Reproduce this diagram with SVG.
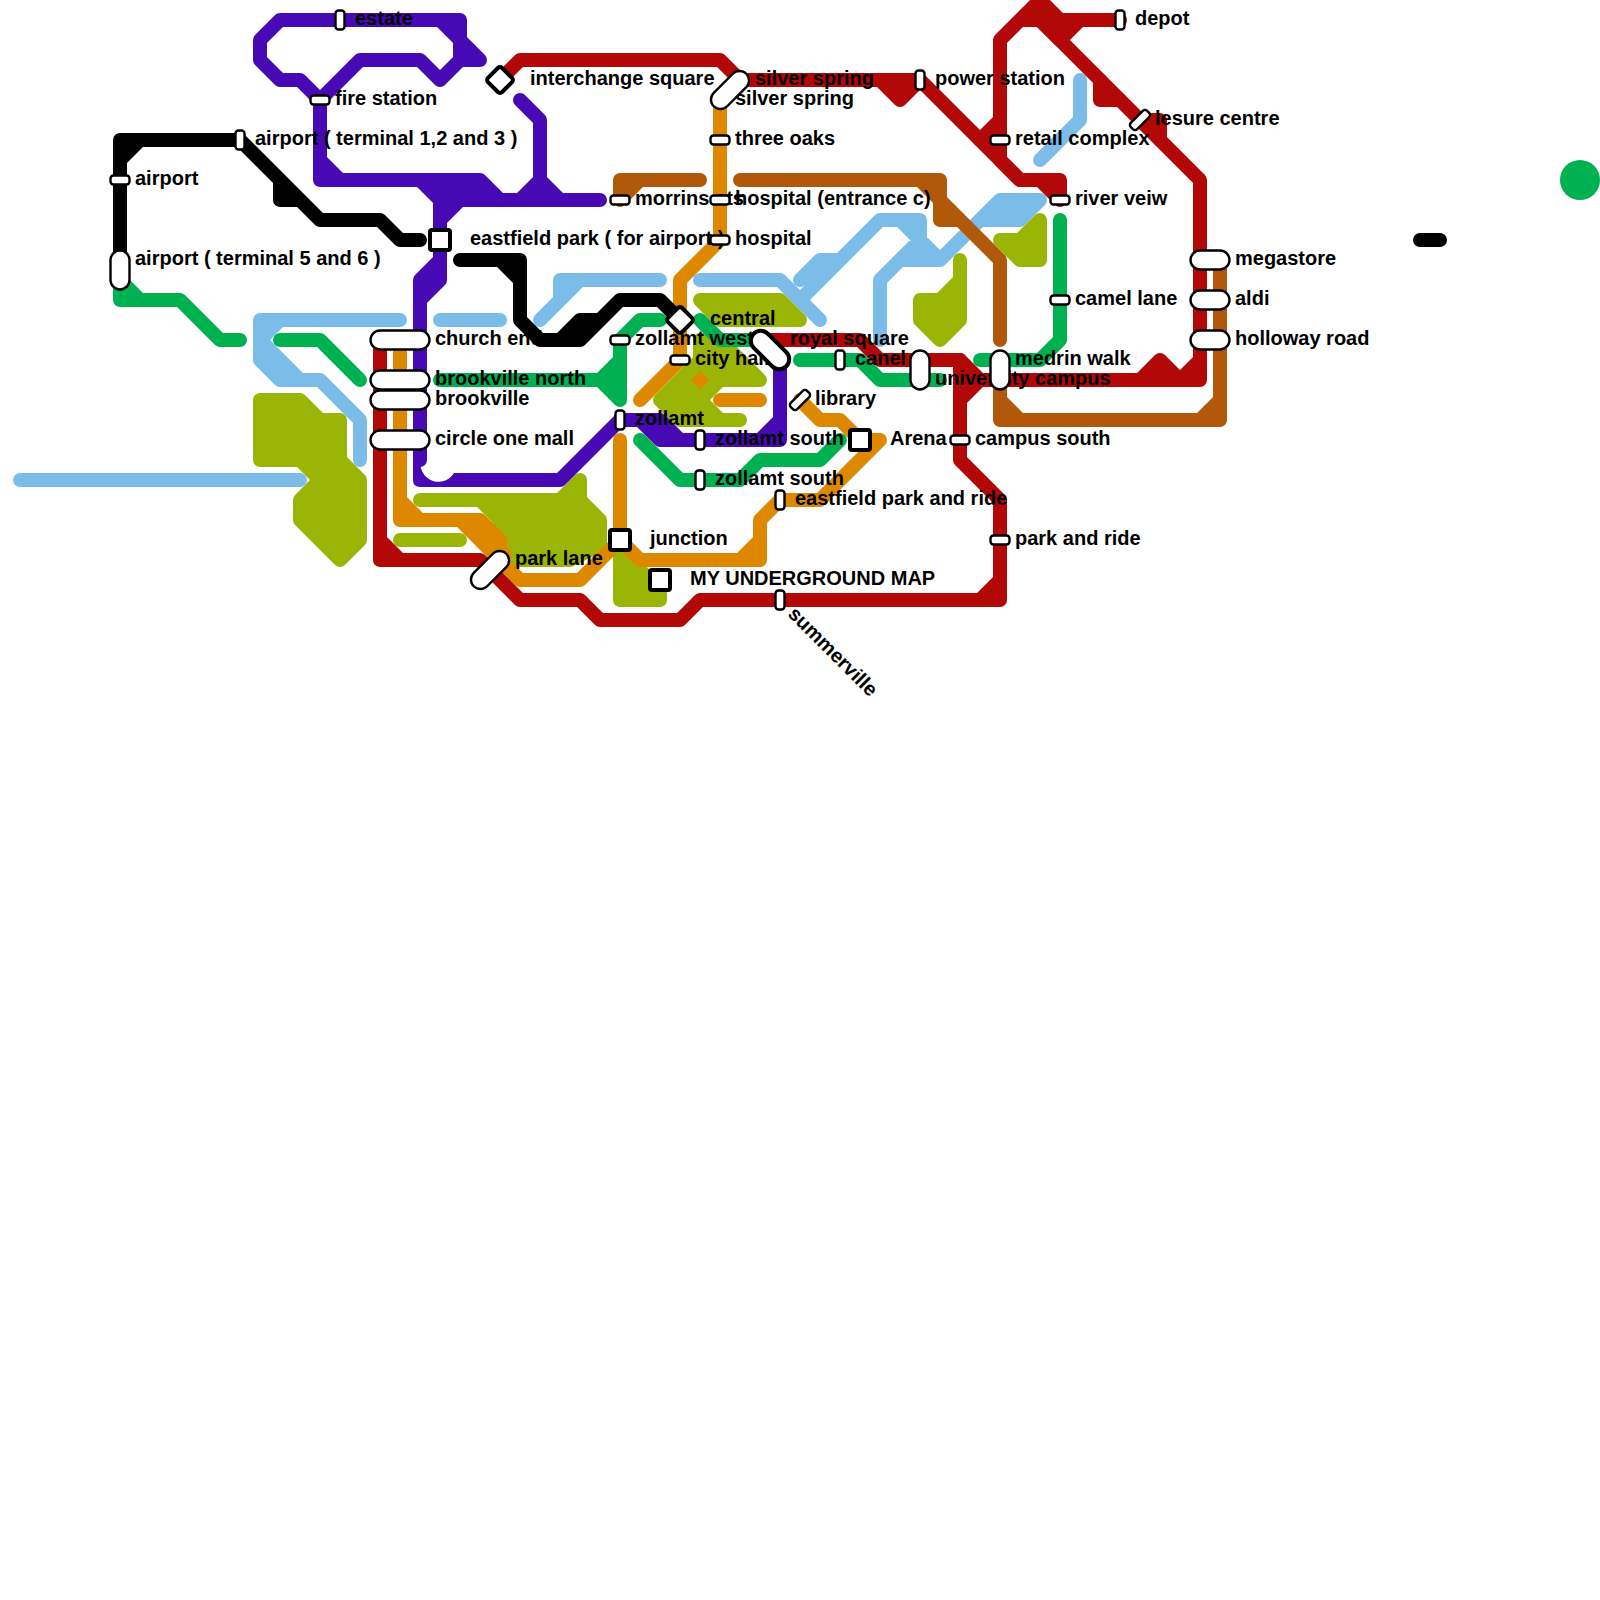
<svg xmlns="http://www.w3.org/2000/svg" width="1600" height="1600" viewBox="0 0 1600 1600">
<style>
.l{fill:none;stroke-width:14;stroke-linecap:round;stroke-linejoin:round}
.a{stroke-width:14;stroke-linecap:round;stroke-linejoin:round}
.red{stroke:#b20808}.pur{stroke:#4709b3}.bro{stroke:#b1580a}.ora{stroke:#de8800}.oli{stroke:#9ab506}.blu{stroke:#7bbde8}.gre{stroke:#00b152}.bla{stroke:#000}
.a.oli{fill:#9ab506}
.f-red{fill:#b20808}.f-pur{fill:#4709b3}.f-blu{fill:#7bbde8}.f-gre{fill:#00b152}.f-bla{fill:#000}.f-ora{fill:#de8800}
.s{fill:#fff;stroke:#000;stroke-width:2.4}
.b{fill:#fff;stroke:#000;stroke-width:4}
text{font-family:"Liberation Sans",Arial,sans-serif;font-weight:bold;font-size:20px;fill:#000}
</style>
<rect width="1600" height="1600" fill="#fff"/>
<g id="connectors">
<g id="line-blue">
<path class="l blu" d="M20 480H300"/>
<path class="l blu" d="M400 320H260V360L280 380H320L360 420V460M260 340L300 380H320M260 340L280 320M260 350L290 380"/>
<polygon class="f-blu" points="260,320 280,320 260,340"/>
<path class="l blu" d="M440 320H500"/>
<path class="l blu" d="M540 320L560 300V280H660M560 300L580 280"/>
<path class="l blu" d="M700 280H780L820 320M780 280L800 300L880 220H920V240L940 260L1000 200H1040M800 280L820 260H840M810 280L835 262M900 220L920 240M880 340V280L920 240M880 280L900 260H940L980 220H1020L1040 200M920 245V255M990 210H1030"/>
<path class="l blu" d="M1080 80V120L1040 160"/>
</g>
<g id="line-orange-under">
<path class="l ora" d="M720 100V240L680 280V360L640 400"/>
<path class="l ora" d="M720 400H760"/>
</g>
<g id="line-olive">
<path class="a oli" d="M260 400H300L320 420H340V460L360 480V540L340 560L300 520V500L320 480L300 460H260Z"/>
<path class="a oli" d="M420 500H480L500 520V560H570L600 545V520L580 500V480L560 500H480"/>
<path class="l oli" d="M400 540H460"/>
<path class="a oli" d="M620 550V600H660V590Z"/>
<path class="a oli" d="M700 300H780L800 320H720Z"/>
<path class="a oli" d="M660 400L700 360V340H720L760 380H720L700 400L720 420H740H680Z"/>
<path class="a oli" d="M920 300H940L960 280V260V320L940 340L920 320Z"/>
<path class="a oli" d="M1000 240H1020L1040 220V260H1020Z"/>
</g>
<g id="line-orange">
<polygon class="f-ora" points="700,371 709,380 700,389 691,380"/>
<path class="l ora" d="M400 340V520H460L520 580H580L620 540M400 500L420 520M460 520H480L500 540V565M470 520L505 555"/>
<path class="l ora" d="M620 440V540L640 560H760V520L780 500H820L880 440H860L840 420H820L800 400M740 560L760 540"/>
</g>
<g id="line-brown">
<path class="l bro" d="M700 180H620V200L640 180"/>
<path class="l bro" d="M740 180H940V200L1000 260V340M920 180L940 200V220H960"/>
<path class="l bro" d="M1000 380V420H1220V260M1000 400L1020 420M1200 420L1220 400"/>
</g>
<g id="line-purple">
<path class="l pur" d="M280 20H460V40L480 60H460L440 80L420 60H360L320 100L300 80H280L260 60V40L280 20M440 20L460 40V60"/>
<path class="l pur" d="M320 100V180H420L440 200V280L420 300M320 160L340 180M440 260L420 280V460M440 270L420 290"/>
<path class="l pur" d="M420 180H480L500 200H600M440 220L460 200H500M520 200L540 180V120L520 100M540 180L560 200"/>
<polygon class="f-pur" points="420,180 480,180 500,200 460,200 440,220 440,200"/>
<polygon class="f-pur" points="520,200 540,180 560,200"/>
<path class="f-pur" d="M413 460V480Q413 487 420 487H460V473H454A18 18 0 1 1 427 450V460Z"/>
<path class="l pur" d="M460 480H560L620 420H660L680 440H780V360M640 420L660 440H680M650 420L670 440M760 440L780 420"/>
</g>
<g id="line-green">
<path class="l gre" d="M120 280V300H180L220 340H240M120 280L140 300"/>
<path class="l gre" d="M280 340H320L360 380"/>
<path class="l gre" d="M440 380H600L620 360M600 380L620 400V340L640 320H660"/>
<polygon class="f-gre" points="600,380 620,360 620,400"/>
<path class="l gre" d="M700 320L720 340H760"/>
<path class="l gre" d="M800 360H860L880 380H940"/>
<path class="l gre" d="M980 360H1040L1060 340V220"/>
<path class="l gre" d="M640 440L680 480H740L760 460H820L840 440"/>
</g>
<g id="line-red">
<path class="l red" d="M380 340V560H480L520 600H580L600 620H680L700 600H1000V500L960 460V360H880L860 340H760M380 540L400 560M980 600L1000 580"/>
<path class="l red" d="M940 360L960 360L980 380H1200V180L1040 20M960 400L980 380M1140 380L1160 360L1180 380L1200 360"/>
<polygon class="f-red" points="960,360 980,380 960,400"/>
<polygon class="f-red" points="1140,380 1160,360 1180,380"/>
<path class="l red" d="M500 80L520 60H720L740 80H880L900 100L920 80L1020 180H1060V200M880 80H920M1040 180L1060 200"/>
<polygon class="f-red" points="880,80 920,80 900,100"/>
<path class="l red" d="M980 140L1000 120V40L1040 0L1060 20H1120M1000 40L1020 20H1040L1060 40L1080 20M1000 120V160L1020 180"/>
<polygon class="f-red" points="1020,20 1040,0 1060,20 1080,20 1060,40 1040,20"/>
<path class="l red" d="M1100 80V100H1120M1140 120H1160V140"/>
</g>
<g id="line-black">
<path class="l bla" d="M120 270V140H240L320 220H380L400 240H420M120 160L140 140M280 180V200H300"/>
<path class="l bla" d="M460 260H520V320L540 340H580L620 300H660L680 320M500 260L520 280M560 340L580 320H600M570 335L585 320"/>
<path class="l bla" d="M1420 240H1440"/>
</g>
</g>
<circle id="green-dot" cx="1580" cy="180" r="20" class="f-gre"/>
<g id="nodes">
<g id="n-estate"><text x="355" y="25">estate</text><rect class="s" x="335.5" y="10.5" width="9" height="19" rx="3"/></g>
<g id="n-airport"><text x="135" y="185">airport</text><rect class="s" x="110.5" y="175.5" width="19" height="9" rx="3"/></g>
<g id="n-airport-t1"><text x="255" y="145">airport ( terminal 1,2 and 3 )</text><rect class="s" x="235.5" y="130.5" width="9" height="19" rx="3"/></g>
<g id="n-airport-t5"><text x="135" y="265">airport ( terminal 5 and 6 )</text><rect class="s" x="110.5" y="250.5" width="19" height="39" rx="9.5"/></g>
<g id="n-fire-station"><text x="335" y="105">fire station</text><rect class="s" x="310.5" y="95.5" width="19" height="9" rx="3"/></g>
<g id="n-interchange-square"><text x="530" y="85">interchange square</text><rect class="b" x="490" y="70" width="20" height="20" rx="3" transform="rotate(45 500 80)"/></g>
<g id="n-morrins"><text x="635" y="205">morrins sts</text><rect class="s" x="610.5" y="195.5" width="19" height="9" rx="3"/></g>
<g id="n-eastfield-park"><text x="470" y="245">eastfield park ( for airport )</text><rect class="b" x="430" y="230" width="20" height="20" rx="2"/></g>
<g id="n-silver-spring"><text x="755" y="85">silver spring</text><text x="735" y="105">silver spring</text><rect class="s" x="707" y="80.5" width="46" height="19" rx="9.5" transform="rotate(-45 730 90)"/></g>
<g id="n-three-oaks"><text x="735" y="145">three oaks</text><rect class="s" x="710.5" y="135.5" width="19" height="9" rx="3"/></g>
<g id="n-hospital-c"><text x="735" y="205">hospital (entrance c)</text><rect class="s" x="710.5" y="195.5" width="19" height="9" rx="3"/></g>
<g id="n-hospital"><text x="735" y="245">hospital</text><rect class="s" x="710.5" y="235.5" width="19" height="9" rx="3"/></g>
<g id="n-power-station"><text x="935" y="85">power station</text><rect class="s" x="915.5" y="70.5" width="9" height="19" rx="3"/></g>
<g id="n-depot"><text x="1135" y="25">depot</text><rect class="s" x="1115.5" y="10.5" width="9" height="19" rx="3"/></g>
<g id="n-retail-complex"><text x="1015" y="145">retail complex</text><rect class="s" x="990.5" y="135.5" width="19" height="9" rx="3"/></g>
<g id="n-lesure-centre"><text x="1155" y="125">lesure centre</text><rect class="s" x="1128.5" y="115.5" width="23" height="9" rx="3" transform="rotate(-45 1140 120)"/></g>
<g id="n-river-veiw"><text x="1075" y="205">river veiw</text><rect class="s" x="1050.5" y="195.5" width="19" height="9" rx="3"/></g>
<g id="n-camel-lane"><text x="1075" y="305">camel lane</text><rect class="s" x="1050.5" y="295.5" width="19" height="9" rx="3"/></g>
<g id="n-megastore"><text x="1235" y="265">megastore</text><rect class="s" x="1190.5" y="250.5" width="39" height="19" rx="9.5"/></g>
<g id="n-aldi"><text x="1235" y="305">aldi</text><rect class="s" x="1190.5" y="290.5" width="39" height="19" rx="9.5"/></g>
<g id="n-holloway-road"><text x="1235" y="345">holloway road</text><rect class="s" x="1190.5" y="330.5" width="39" height="19" rx="9.5"/></g>
<g id="n-church-end"><text x="435" y="345">church end</text><rect class="s" x="370.5" y="330.5" width="59" height="19" rx="9.5"/></g>
<g id="n-brookville-north"><text x="435" y="385">brookville north</text><rect class="s" x="370.5" y="370.5" width="59" height="19" rx="9.5"/></g>
<g id="n-brookville"><text x="435" y="405">brookville</text><rect class="s" x="370.5" y="390.5" width="59" height="19" rx="9.5"/></g>
<g id="n-circle-one-mall"><text x="435" y="445">circle one mall</text><rect class="s" x="370.5" y="430.5" width="59" height="19" rx="9.5"/></g>
<g id="n-zollamt-west"><text x="635" y="345">zollamt west</text><rect class="s" x="610.5" y="335.5" width="19" height="9" rx="3"/></g>
<g id="n-central"><text x="710" y="325">central</text><rect class="b" x="670" y="310" width="20" height="20" rx="3" transform="rotate(45 680 320)"/></g>
<g id="n-city-hall"><text x="695" y="365">city hall</text><rect class="s" x="670.5" y="355.5" width="19" height="9" rx="3"/></g>
<g id="n-royal-square"><text x="790" y="345">royal square</text><rect class="b" x="747" y="340" width="46" height="20" rx="10" transform="rotate(45 770 350)"/></g>
<g id="n-canel"><text x="855" y="365">canel</text><rect class="s" x="835.5" y="350.5" width="9" height="19" rx="3"/></g>
<g id="n-university-campus"><text x="935" y="385">university campus</text><rect class="s" x="910.5" y="350.5" width="19" height="39" rx="9.5"/></g>
<g id="n-medrin-walk"><text x="1015" y="365">medrin walk</text><rect class="s" x="990.5" y="350.5" width="19" height="39" rx="9.5"/></g>
<g id="n-library"><text x="815" y="405">library</text><rect class="s" x="788.5" y="395.5" width="23" height="9" rx="3" transform="rotate(-45 800 400)"/></g>
<g id="n-zollamt"><text x="635" y="425">zollamt</text><rect class="s" x="615.5" y="410.5" width="9" height="19" rx="3"/></g>
<g id="n-zollamt-south-1"><text x="715" y="445">zollamt south</text><rect class="s" x="695.5" y="430.5" width="9" height="19" rx="3"/></g>
<g id="n-arena"><text x="890" y="445">Arena</text><rect class="b" x="850" y="430" width="20" height="20" rx="2"/></g>
<g id="n-campus-south"><text x="975" y="445">campus south</text><rect class="s" x="950.5" y="435.5" width="19" height="9" rx="3"/></g>
<g id="n-zollamt-south-2"><text x="715" y="485">zollamt south</text><rect class="s" x="695.5" y="470.5" width="9" height="19" rx="3"/></g>
<g id="n-eastfield-park-and-ride"><text x="795" y="505">eastfield park and ride</text><rect class="s" x="775.5" y="490.5" width="9" height="19" rx="3"/></g>
<g id="n-park-and-ride"><text x="1015" y="545">park and ride</text><rect class="s" x="990.5" y="535.5" width="19" height="9" rx="3"/></g>
<g id="n-junction"><text x="650" y="545">junction</text><rect class="b" x="610" y="530" width="20" height="20" rx="2"/></g>
<g id="n-park-lane"><text x="515" y="565">park lane</text><rect class="s" x="467" y="560.5" width="46" height="19" rx="9.5" transform="rotate(-45 490 570)"/></g>
<g id="n-map"><text x="690" y="585">MY UNDERGROUND MAP</text><rect class="b" x="650" y="570" width="20" height="20" rx="2"/></g>
<g id="n-summerville"><text transform="translate(787 615) rotate(45)">summerville</text><rect class="s" x="775.5" y="590.5" width="9" height="19" rx="3"/></g>
</g>
</svg>
